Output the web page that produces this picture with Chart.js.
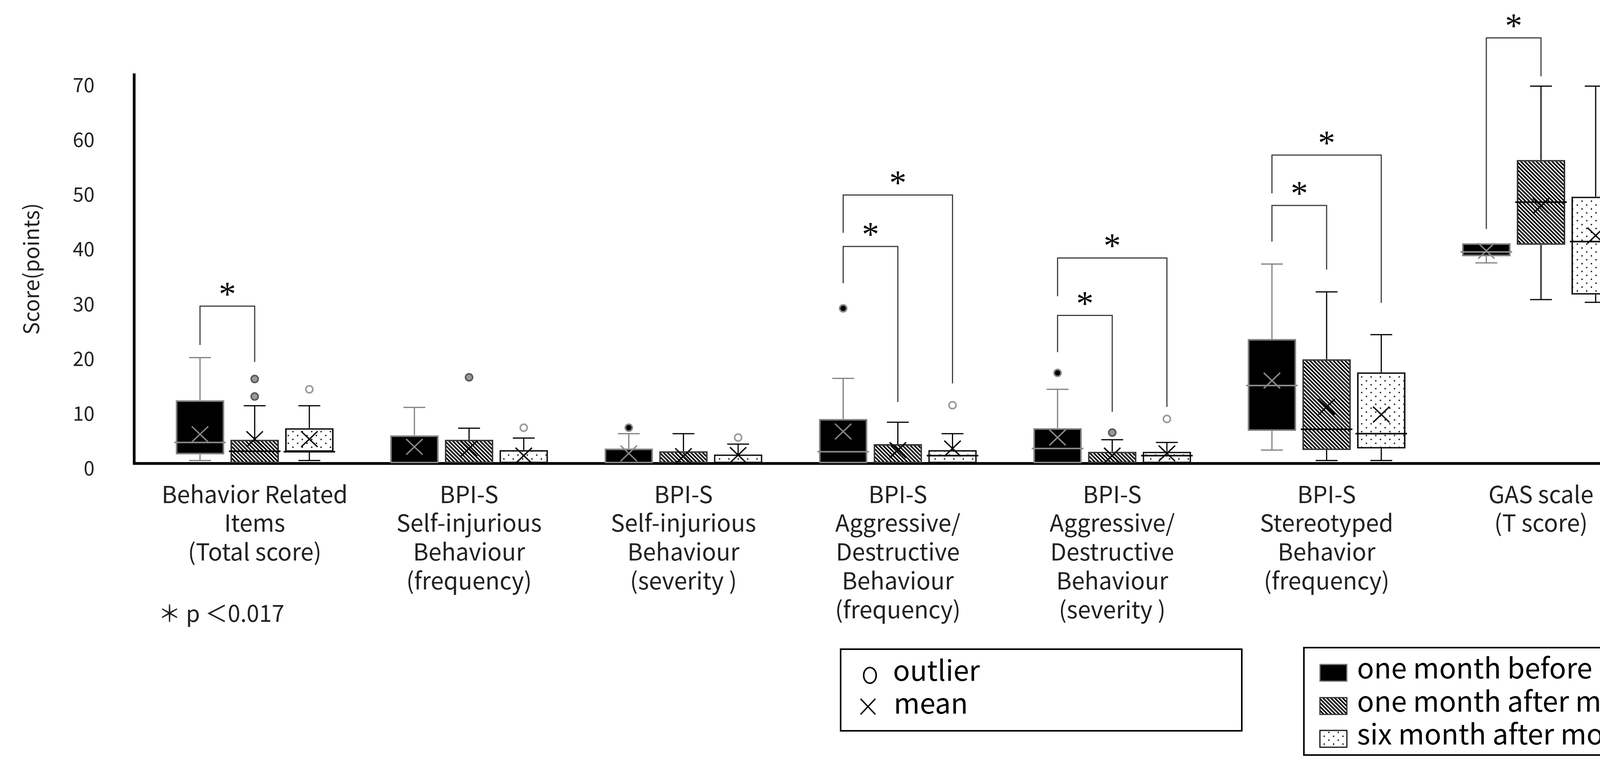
<!DOCTYPE html>
<html>
<head>
<meta charset="utf-8">
<script src="https://cdn.jsdelivr.net/npm/chart.js@4.4.1/dist/chart.umd.min.js"></script>
<style>
  html, body { margin: 0; padding: 0; background: #fff; overflow: hidden; }
  #box-chart { display: block; width: 100vw; height: 100vh; }
</style>
</head>
<body>
<canvas id="box-chart" width="4400" height="1979"></canvas>
<script>
(function () {
    "use strict";

    // categories and tick labels
    const categoryLabels = [
        ["Behavior Related", "Items", "(Total score)"],
        ["BPI-S", "Self-injurious", "Behaviour", "(frequency)"],
        ["BPI-S", "Self-injurious", "Behaviour", "(severity )"],
        ["BPI-S", "Aggressive/", "Destructive", "Behaviour", "(frequency)"],
        ["BPI-S", "Aggressive/", "Destructive", "Behaviour", "(severity )"],
        ["BPI-S", "Stereotyped", "Behavior", "(frequency)"],
        ["GAS scale", "(T score)"]
    ];
    const yTicks = [0, 10, 20, 30, 40, 50, 60, 70];
    const seriesNames = ["one month before moving", "one month after moving", "six month after moving"];

    // one month before moving
    const beforeMin = [0.5, 0, 0, 0, 0, 2.4, 36.6];
    const beforeQ1 = [1.6, 0, 0, 0, 0, 5.9, 37.8];
    const beforeMedian = [3.8, 0, 0, 2.1, 2.7, 14.2, 38.6];
    const beforeQ3 = [11.5, 5.1, 2.7, 8.1, 6.4, 22.7, 40.2];
    const beforeMax = [19.3, 10.2, 5.4, 15.5, 13.5, 36.4, 40.2];
    const beforeMean = [5.3, 3.0, 1.8, 5.8, 4.7, 15.1, 38.8];
    const beforeOutliers = [[], [], [6.5], [28.3], [16.5], [], []];

    // one month after moving
    const after1Min = [0, 0, 0, 0, 0, 0.5, 29.9];
    const after1Q1 = [0, 0, 0, 0, 0, 2.4, 39.9];
    const after1Median = [2.2, 0, 0, 0, 0, 6.2, 47.7];
    const after1Q3 = [4.3, 4.3, 2.2, 3.5, 2.1, 19.0, 55.4];
    const after1Max = [10.5, 6.4, 5.4, 7.5, 4.3, 31.3, 68.9];
    const after1Mean = [4.4, 2.7, 1.3, 2.4, 1.4, 10.3, 47.0];
    const after1Outliers = [[12.2, 15.4], [15.7], [], [], [5.6], [], []];

    // six month after moving
    const after6Min = [0.5, 0, 0, 0, 0, 0.5, 29.4];
    const after6Q1 = [2.1, 0, 0, 0, 0, 2.7, 30.8];
    const after6Median = [2.1, 0, 0, 1.4, 1.4, 5.4, 40.5];
    const after6Q3 = [6.4, 2.4, 1.6, 2.4, 2.1, 16.6, 48.7];
    const after6Max = [10.5, 4.6, 3.5, 5.4, 3.8, 23.5, 68.9];
    const after6Mean = [4.4, 1.4, 1.5, 2.7, 1.8, 8.9, 41.6];
    const after6Outliers = [[13.5], [6.5], [4.7], [10.6], [8.1], [], []];

    // significance brackets (always from the "before" box)
    const sigCategory = [0, 3, 3, 4, 4, 5, 5, 6];
    const sigTarget = [1, 1, 2, 1, 2, 1, 2, 1];
    const sigTop = [28.7, 39.6, 49.0, 27.0, 37.5, 47.1, 56.3, 77.7];
    const sigLeftEnd = [21.6, 32.9, 42.1, 20.3, 30.5, 40.5, 49.3, 42.8];
    const sigRightEnd = [18.5, 11.2, 14.6, 9.4, 10.3, 35.4, 29.3, 70.7];

    const FONT = "'Noto Sans CJK JP', 'Noto Sans', sans-serif";

    // fill patterns
    function hatchPattern() {
        const c = document.createElement("canvas");
        c.width = 10; c.height = 10;
        const g = c.getContext("2d");
        g.fillStyle = "#fff";
        g.fillRect(0, 0, 10, 10);
        g.strokeStyle = "#000";
        g.lineWidth = 4;
        g.beginPath();
        for (let k = -1; k <= 1; k++) {
            g.moveTo(k * 10 - 1, -1);
            g.lineTo(k * 10 + 11, 11);
        }
        g.stroke();
        return g.createPattern(c, "repeat");
    }
    function dotPattern() {
        const c = document.createElement("canvas");
        c.width = 24; c.height = 20;
        const g = c.getContext("2d");
        g.fillStyle = "#fff";
        g.fillRect(0, 0, 24, 20);
        g.fillStyle = "#111";
        g.beginPath();
        g.arc(6, 5, 1.9, 0, Math.PI * 2);
        g.arc(18, 15, 1.9, 0, Math.PI * 2);
        g.fill();
        return g.createPattern(c, "repeat");
    }
    const hatch = hatchPattern();
    const dots = dotPattern();

    const groups = [
        { min: beforeMin, q1: beforeQ1, med: beforeMedian, q3: beforeQ3, max: beforeMax, mean: beforeMean, out: beforeOutliers,
          fill: "#000", border: "#7f7f7f", line: "#7f7f7f", mark: "#8a8a8a", outFill: "#000", outLine: "#8a8a8a" },
        { min: after1Min, q1: after1Q1, med: after1Median, q3: after1Q3, max: after1Max, mean: after1Mean, out: after1Outliers,
          fill: hatch, border: "#333", line: "#000", mark: "#000", outFill: "#9a9a9a", outLine: "#5a5a5a" },
        { min: after6Min, q1: after6Q1, med: after6Median, q3: after6Q3, max: after6Max, mean: after6Mean, out: after6Outliers,
          fill: dots, border: "#111", line: "#000", mark: "#000", outFill: "#fff", outLine: "#9a9a9a" }
    ];

    const datasets = groups.map(function (g, gi) {
        return {
            label: seriesNames[gi],
            data: categoryLabels.map(function (c, i) { return { x: i, y: [g.q1[i], g.q3[i]] }; }),
            backgroundColor: g.fill,
            borderColor: g.border,
            borderWidth: 4,
            borderSkipped: false,
            categoryPercentage: 0.765,
            barPercentage: 0.886
        };
    });

    // whiskers, medians, means, outliers
    const boxDetails = {
        id: "boxDetails",
        afterDatasetsDraw(chart) {
            const ctx = chart.ctx;
            const ys = chart.scales.y;
            ctx.save();
            groups.forEach(function (g, gi) {
                chart.getDatasetMeta(gi).data.forEach(function (bar, i) {
                    const cx = bar.x, half = bar.width / 2, cap = 28;
                    ctx.strokeStyle = g.line;
                    ctx.lineWidth = 3;
                    ctx.beginPath();
                    if (g.max[i] > g.q3[i]) {
                        ctx.moveTo(cx, ys.getPixelForValue(g.q3[i]));
                        ctx.lineTo(cx, ys.getPixelForValue(g.max[i]));
                        ctx.moveTo(cx - cap, ys.getPixelForValue(g.max[i]));
                        ctx.lineTo(cx + cap, ys.getPixelForValue(g.max[i]));
                    }
                    if (g.min[i] < g.q1[i]) {
                        ctx.moveTo(cx, ys.getPixelForValue(g.q1[i]));
                        ctx.lineTo(cx, ys.getPixelForValue(g.min[i]));
                        ctx.moveTo(cx - cap, ys.getPixelForValue(g.min[i]));
                        ctx.lineTo(cx + cap, ys.getPixelForValue(g.min[i]));
                    }
                    ctx.stroke();

                    // median
                    if (g.med[i] > 0) {
                        ctx.strokeStyle = g.mark;
                        ctx.lineWidth = 4;
                        ctx.beginPath();
                        const my = ys.getPixelForValue(g.med[i]);
                        ctx.moveTo(cx - half - 4, my);
                        ctx.lineTo(cx + half + 4, my);
                        ctx.stroke();
                    }

                    // mean cross
                    const ey = ys.getPixelForValue(g.mean[i]);
                    ctx.strokeStyle = g.mark;
                    ctx.lineWidth = 3.5;
                    ctx.beginPath();
                    ctx.moveTo(cx - 21, ey - 20);
                    ctx.lineTo(cx + 21, ey + 20);
                    ctx.moveTo(cx + 21, ey - 20);
                    ctx.lineTo(cx - 21, ey + 20);
                    ctx.stroke();

                    // outliers
                    g.out[i].forEach(function (v) {
                        ctx.beginPath();
                        ctx.arc(cx, ys.getPixelForValue(v), 9, 0, Math.PI * 2);
                        ctx.fillStyle = g.outFill;
                        ctx.fill();
                        ctx.lineWidth = 4;
                        ctx.strokeStyle = g.outLine;
                        ctx.stroke();
                    });
                });
            });
            ctx.restore();
        }
    };

    // significance brackets, note and legends
    const annotations = {
        id: "annotations",
        afterDraw(chart) {
            const ctx = chart.ctx;
            const ys = chart.scales.y;
            ctx.save();
            sigCategory.forEach(function (c, k) {
                const x0 = chart.getDatasetMeta(0).data[c].x;
                const x1 = chart.getDatasetMeta(sigTarget[k]).data[c].x;
                const yt = ys.getPixelForValue(sigTop[k]);
                ctx.strokeStyle = "#404040";
                ctx.lineWidth = 3;
                ctx.beginPath();
                ctx.moveTo(x0, ys.getPixelForValue(sigLeftEnd[k]));
                ctx.lineTo(x0, yt);
                ctx.lineTo(x1, yt);
                ctx.lineTo(x1, ys.getPixelForValue(sigRightEnd[k]));
                ctx.stroke();
                ctx.fillStyle = "#000";
                ctx.font = "88px 'Liberation Serif', serif";
                ctx.textAlign = "center";
                ctx.textBaseline = "alphabetic";
                ctx.fillText("*", (x0 + x1) / 2, yt - 2);
            });

            // p value note
            ctx.fillStyle = "#222";
            ctx.font = "58px " + FONT;
            ctx.textAlign = "left";
            ctx.textBaseline = "alphabetic";
            ctx.fillText("＊ p ＜0.017", 405, 1592);

            // legend: outlier / mean
            ctx.strokeStyle = "#000";
            ctx.lineWidth = 4;
            ctx.strokeRect(2152, 1662, 1027, 209);
            ctx.beginPath();
            ctx.ellipse(2227, 1729, 16, 20, 0, 0, Math.PI * 2);
            ctx.stroke();
            ctx.lineWidth = 3.5;
            ctx.beginPath();
            ctx.moveTo(2203, 1789); ctx.lineTo(2241, 1829);
            ctx.moveTo(2241, 1789); ctx.lineTo(2203, 1829);
            ctx.stroke();
            ctx.fillStyle = "#000";
            ctx.font = "72px " + FONT;
            ctx.fillText("outlier", 2286, 1743);
            ctx.fillText("mean", 2288, 1827);

            // legend: series
            ctx.lineWidth = 4;
            ctx.strokeRect(3338, 1658, 1026, 275);
            const rowBase = [1737, 1822, 1906];
            groups.forEach(function (g, gi) {
                const top = rowBase[gi] - 36;
                ctx.fillStyle = g.fill;
                ctx.fillRect(3379, top, 69, 43);
                ctx.strokeStyle = g.border;
                ctx.lineWidth = 3;
                ctx.strokeRect(3379, top, 69, 43);
                ctx.fillStyle = "#000";
                ctx.font = "72px " + FONT;
                ctx.fillText(seriesNames[gi], 3474, rowBase[gi]);
            });
            ctx.restore();
        }
    };

    var ctx1 = document.getElementById("box-chart").getContext("2d");
    var myChart1 = new Chart(ctx1, {
        type: "bar",
        data: { datasets: datasets },
        plugins: [boxDetails, annotations],
        options: {
            responsive: false,
            animation: false,
            devicePixelRatio: 1,
            layout: { padding: { top: 191, right: 33, bottom: 0, left: 0 } },
            plugins: { legend: { display: false }, tooltip: { enabled: false } },
            scales: {
                x: {
                    type: "linear",
                    offset: false,
                    min: -0.563,
                    max: 6.769,
                    grid: { display: false, drawTicks: false, offset: false },
                    border: { display: true, color: "#000", width: 7 },
                    afterBuildTicks: function (scale) {
                        scale.ticks = categoryLabels.map(function (c, i) { return { value: i }; });
                    },
                    afterFit: function (scale) { scale.height = 793; },
                    ticks: {
                        autoSkip: false,
                        maxRotation: 0,
                        minRotation: 0,
                        padding: 42,
                        color: "#222",
                        font: { family: FONT, size: 60, lineHeight: 1.23 },
                        callback: function (value) { return categoryLabels[value]; }
                    }
                },
                y: {
                    min: 0,
                    max: 71,
                    grid: { display: false, drawTicks: false },
                    border: { display: true, color: "#000", width: 7 },
                    afterBuildTicks: function (scale) {
                        scale.ticks = yTicks.map(function (v) { return { value: v }; });
                    },
                    afterFit: function (scale) { scale.width = 343; },
                    ticks: {
                        padding: 101,
                        labelOffset: 12,
                        color: "#222",
                        font: { family: FONT, size: 50 }
                    },
                    title: {
                        display: true,
                        text: "Score(points)",
                        color: "#222",
                        padding: { top: 47, bottom: 0 },
                        font: { family: FONT, size: 54 }
                    }
                }
            }
        }
    });
})();
</script>
</body>
</html>
